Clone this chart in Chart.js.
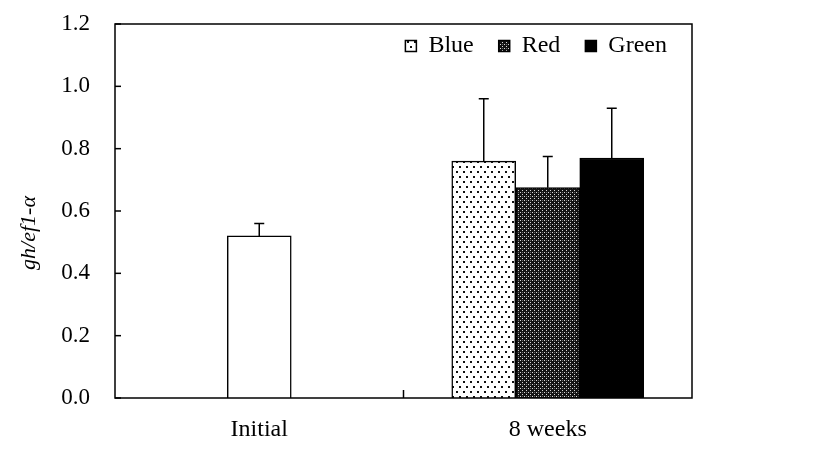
<!DOCTYPE html>
<html>
<head>
<meta charset="utf-8">
<script src="https://cdn.jsdelivr.net/npm/chart.js@4"></script>
<style>
  body { margin: 0; background: #fff; }
  #wrap { width: 827px; height: 456px; }
</style>
</head>
<body>
<div id="wrap"><canvas id="myChart" width="827" height="456"></canvas></div>
<script>
const categories = ['Initial', '8 weeks'];
const initialVals = [0.52, null];
const initialErr = [0.04, null];
const blueVals = [null, 0.76];
const blueErr = [null, 0.20];
const redVals = [null, 0.675];
const redErr = [null, 0.10];
const greenVals = [null, 0.77];
const greenErr = [null, 0.16];
const yTicks = [0, 0.2, 0.4, 0.6, 0.8, 1.0, 1.2];
const yTitle = 'gh/ef1-α';

const serif = "'Liberation Serif', 'Times New Roman', serif";

// fill patterns
function dotPattern() {
  const c = document.createElement('canvas');
  c.width = 7; c.height = 10;
  const g = c.getContext('2d');
  g.fillStyle = '#fff';
  g.fillRect(0, 0, 7, 10);
  g.fillStyle = '#111';
  g.fillRect(1, 1, 2, 2);
  g.fillRect(4, 6, 2, 2);
  return g.createPattern(c, 'repeat');
}

function hatchPattern() {
  const c = document.createElement('canvas');
  c.width = 4; c.height = 4;
  const g = c.getContext('2d');
  g.fillStyle = '#141414';
  g.fillRect(0, 0, 4, 4);
  g.fillStyle = '#d8d8d8';
  g.fillRect(0, 0, 1, 1);
  g.fillRect(2, 2, 1, 1);
  g.fillStyle = '#666';
  g.fillRect(2, 0, 1, 1);
  return g.createPattern(c, 'repeat');
}

const ctx = document.getElementById('myChart');

// box round the plot, inside ticks, error bars, y title
const extras = {
  id: 'extras',
  beforeLayout(chart) {
    // legend inside the plot, but laid out in a row
    if (chart.legend) chart.legend.isHorizontal = () => true;
  },
  afterLayout(chart) {
    const a = chart.chartArea;
    const lg = chart.legend;
    const h = lg.height;
    lg.left = a.left;
    lg.right = a.right;
    lg.top = a.top - 15;
    lg.bottom = lg.top + h;
  },
  afterDatasetsDraw(chart) {
    const c = chart.ctx;
    const a = chart.chartArea;
    const xs = chart.scales.x;
    const ys = chart.scales.y;
    c.save();
    c.strokeStyle = '#000';

    // error bars
    c.lineWidth = 1.5;
    chart.data.datasets.forEach((ds, i) => {
      const meta = chart.getDatasetMeta(i);
      ds.err.forEach((e, j) => {
        if (e == null || ds.data[j] == null) return;
        const bar = meta.data[j];
        const yTop = ys.getPixelForValue(ds.data[j] + e);
        c.beginPath();
        c.moveTo(bar.x, bar.y);
        c.lineTo(bar.x, yTop);
        c.moveTo(bar.x - 5, yTop);
        c.lineTo(bar.x + 5, yTop);
        c.stroke();
      });
    });

    // frame
    c.lineWidth = 1.5;
    c.strokeRect(a.left, a.top, a.right - a.left, a.bottom - a.top);

    // y ticks pointing in
    ys.ticks.forEach(t => {
      const y = ys.getPixelForValue(t.value);
      c.beginPath();
      c.moveTo(a.left, y);
      c.lineTo(a.left + 6, y);
      c.stroke();
    });

    // x tick between the categories
    const mid = (xs.getPixelForTick(0) + xs.getPixelForTick(1)) / 2;
    c.beginPath();
    c.moveTo(mid, a.bottom);
    c.lineTo(mid, a.bottom - 8);
    c.stroke();

    // y title
    c.translate(29, (a.top + a.bottom) / 2 + 22);
    c.rotate(-Math.PI / 2);
    c.font = 'italic 22px ' + serif;
    c.fillStyle = '#000';
    c.textAlign = 'center';
    c.textBaseline = 'middle';
    c.fillText(yTitle, 0, 0);
    c.restore();
  }
};

const chart = new Chart(ctx, {
  type: 'bar',
  data: {
    labels: categories,
    datasets: [
      { label: 'Initial', data: initialVals, err: initialErr, backgroundColor: '#fff' },
      { label: 'Blue', data: blueVals, err: blueErr, backgroundColor: dotPattern() },
      { label: 'Red', data: redVals, err: redErr, backgroundColor: hatchPattern() },
      { label: 'Green', data: greenVals, err: greenErr, backgroundColor: '#000' }
    ].map(d => Object.assign(d, {
      borderColor: '#000',
      borderWidth: 1.5,
      barThickness: 64,
      skipNull: true
    }))
  },
  options: {
    responsive: false,
    animation: false,
    layout: { padding: { left: 0, top: 24, right: 135, bottom: 0 } },
    plugins: {
      tooltip: { enabled: false },
      legend: {
        position: 'chartArea',
        align: 'end',
        labels: {
          filter: item => item.text !== 'Initial',
          color: '#000',
          font: { family: serif, size: 24 },
          boxWidth: 11,
          boxHeight: 11,
          padding: 25
        }
      }
    },
    scales: {
      x: {
        grid: { display: false, drawTicks: false },
        border: { display: false },
        ticks: { color: '#000', font: { family: serif, size: 24 }, padding: 17 },
        afterFit(s) { s.height = 58; }
      },
      y: {
        min: 0,
        max: 1.2,
        afterBuildTicks(s) { s.ticks = yTicks.map(v => ({ value: v })); },
        grid: { display: false, drawTicks: false },
        border: { display: false },
        ticks: {
          color: '#000',
          font: { family: serif, size: 23 },
          padding: 25,
          callback: v => v.toFixed(1)
        },
        afterFit(s) {
          s.width = 115;
          s.paddingTop = 0;
          s.paddingBottom = 0;
        }
      }
    }
  },
  plugins: [extras]
});
</script>
</body>
</html>
